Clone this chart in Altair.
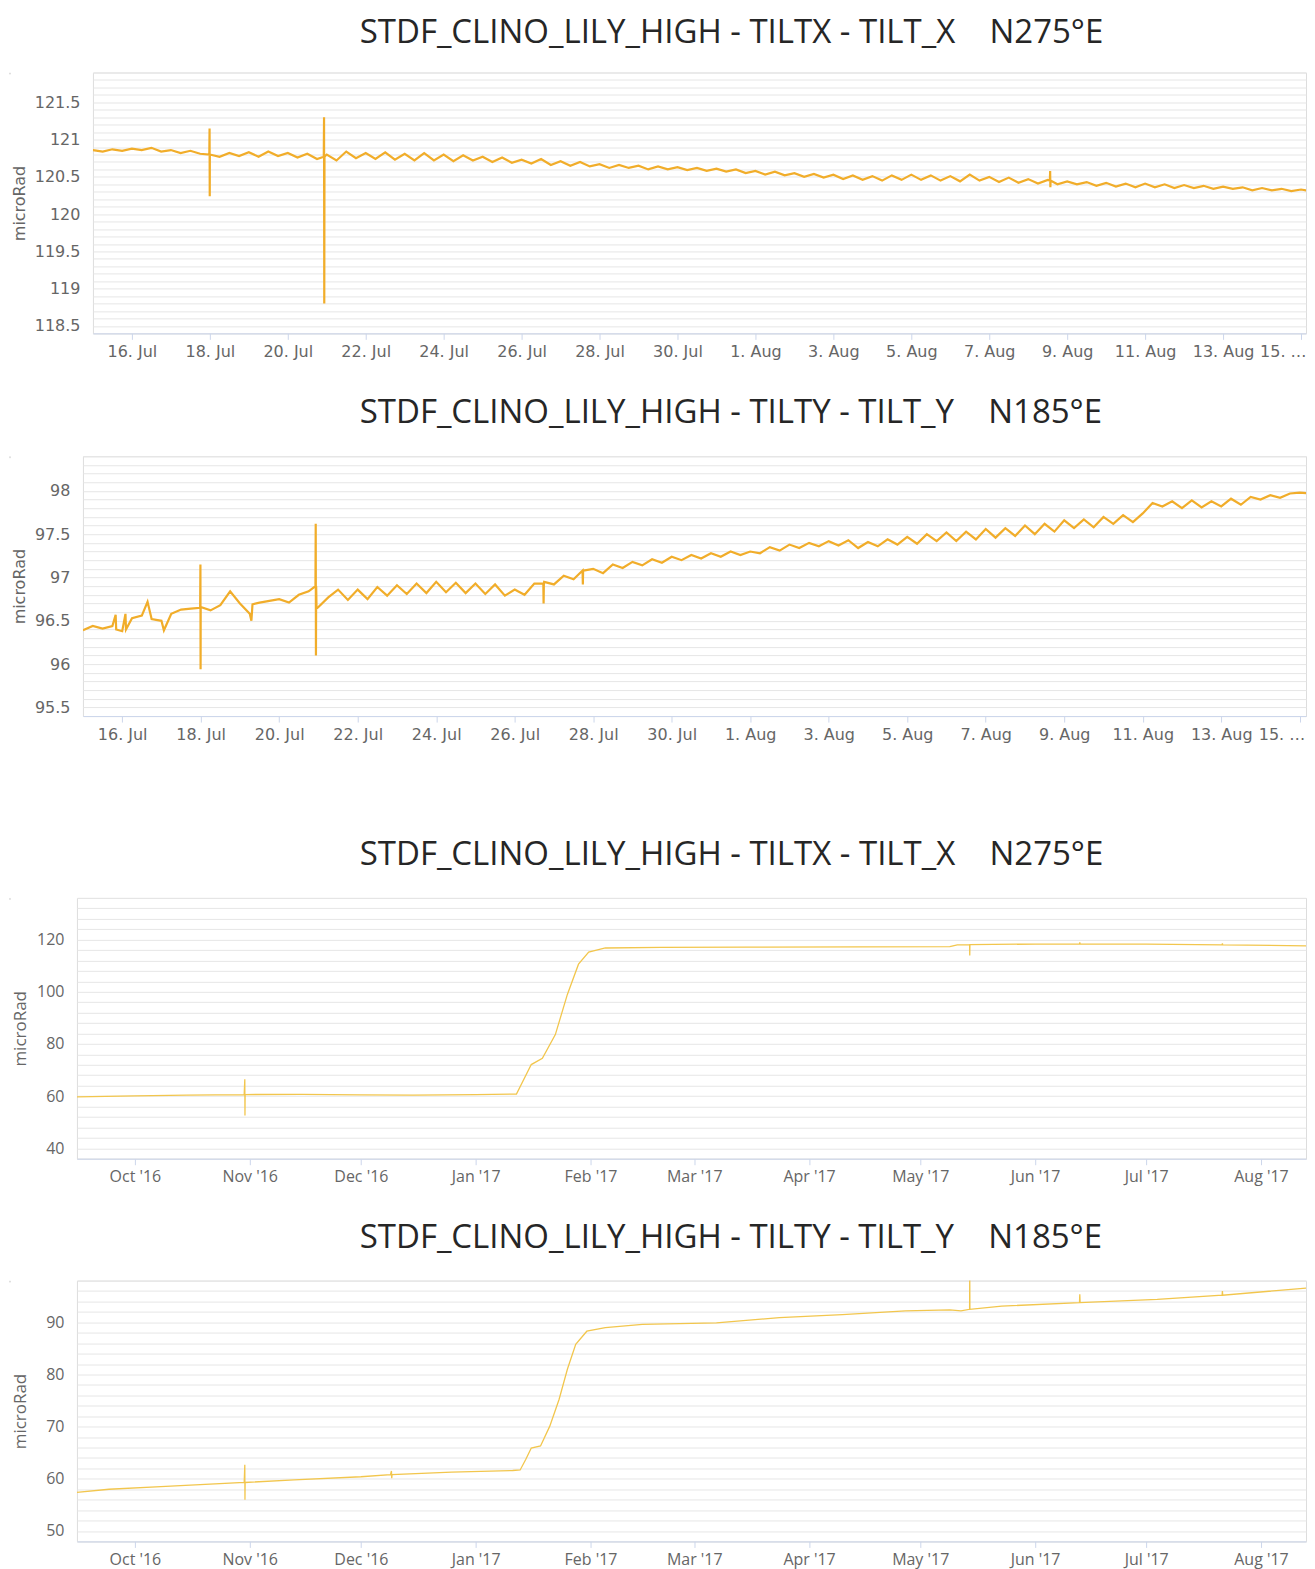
import altair as alt
import pandas as pd

# ---------------- short window: 15 Jul - 15 Aug 2017, 6-hourly readings ----------------
SHORT_START = "2017-07-15 00:00"

tiltx_short = [
    120.86, 120.84, 120.87, 120.85,  # 15 Jul
    120.88, 120.86, 120.89, 120.84,  # 16 Jul
    120.86, 120.82, 120.85, 120.81,  # 17 Jul
    120.80, 120.77, 120.82, 120.78,  # 18 Jul
    120.83, 120.77, 120.84, 120.78,  # 19 Jul
    120.82, 120.76, 120.81, 120.74,  # 20 Jul
    120.80, 120.72, 120.84, 120.75,  # 21 Jul
    120.82, 120.74, 120.83, 120.73,  # 22 Jul
    120.81, 120.72, 120.82, 120.72,  # 23 Jul
    120.80, 120.71, 120.79, 120.72,  # 24 Jul
    120.77, 120.70, 120.76, 120.69,  # 25 Jul
    120.73, 120.68, 120.74, 120.66,  # 26 Jul
    120.71, 120.65, 120.70, 120.64,  # 27 Jul
    120.67, 120.62, 120.66, 120.62,  # 28 Jul
    120.65, 120.60, 120.64, 120.60,  # 29 Jul
    120.63, 120.59, 120.62, 120.58,  # 30 Jul
    120.61, 120.57, 120.60, 120.55,  # 31 Jul
    120.58, 120.53, 120.57, 120.52,  # 1 Aug
    120.55, 120.50, 120.54, 120.49,  # 2 Aug
    120.53, 120.47, 120.52, 120.46,  # 3 Aug
    120.51, 120.45, 120.52, 120.46,  # 4 Aug
    120.53, 120.46, 120.52, 120.45,  # 5 Aug
    120.51, 120.44, 120.53, 120.45,  # 6 Aug
    120.50, 120.43, 120.49, 120.42,  # 7 Aug
    120.47, 120.41, 120.46, 120.40,  # 8 Aug
    120.44, 120.40, 120.43, 120.38,  # 9 Aug
    120.42, 120.37, 120.41, 120.36,  # 10 Aug
    120.41, 120.36, 120.40, 120.35,  # 11 Aug
    120.39, 120.35, 120.38, 120.34,  # 12 Aug
    120.37, 120.34, 120.36, 120.32,  # 13 Aug
    120.35, 120.32, 120.34, 120.31,  # 14 Aug
    120.33, 120.31,                  # 15 Aug
]
tiltx_short_event_times = [
    "2017-07-17 23:40", "2017-07-17 23:50", "2017-07-17 23:56",
    "2017-07-20 22:10", "2017-07-20 22:20", "2017-07-20 22:28", "2017-07-20 22:36",
    "2017-08-08 13:20", "2017-08-08 13:30", "2017-08-08 13:38", "2017-08-08 13:46",
]
tiltx_short_event_values = [
    120.80, 121.15, 120.24,
    120.77, 121.30, 118.80, 120.77,
    120.45, 120.58, 120.36, 120.45,
]

tilty_short = [
    96.39, 96.44, 96.41, 96.44,  # 15 Jul
    96.38, 96.53, 96.56, 96.52,  # 16 Jul
    96.50, 96.58, 96.63, 96.64,  # 17 Jul
    96.66, 96.62, 96.68, 96.84,  # 18 Jul
    96.70, 96.58, 96.71, 96.73,  # 19 Jul
    96.75, 96.71, 96.80, 96.84,  # 20 Jul
    96.66, 96.77, 96.86, 96.74,  # 21 Jul
    96.86, 96.75, 96.89, 96.79,  # 22 Jul
    96.91, 96.81, 96.93, 96.82,  # 23 Jul
    96.95, 96.83, 96.94, 96.82,  # 24 Jul
    96.93, 96.81, 96.92, 96.79,  # 25 Jul
    96.86, 96.80, 96.93, 96.95,  # 26 Jul
    96.92, 97.02, 96.98, 97.08,  # 27 Jul
    97.10, 97.05, 97.15, 97.11,  # 28 Jul
    97.18, 97.14, 97.21, 97.17,  # 29 Jul
    97.24, 97.20, 97.26, 97.22,  # 30 Jul
    97.28, 97.24, 97.30, 97.26,  # 31 Jul
    97.30, 97.28, 97.35, 97.31,  # 1 Aug
    97.38, 97.34, 97.40, 97.36,  # 2 Aug
    97.42, 97.37, 97.43, 97.34,  # 3 Aug
    97.41, 97.36, 97.44, 97.38,  # 4 Aug
    97.47, 97.39, 97.50, 97.42,  # 5 Aug
    97.52, 97.42, 97.53, 97.44,  # 6 Aug
    97.56, 97.46, 97.57, 97.48,  # 7 Aug
    97.60, 97.50, 97.62, 97.53,  # 8 Aug
    97.66, 97.57, 97.67, 97.58,  # 9 Aug
    97.70, 97.62, 97.72, 97.64,  # 10 Aug
    97.74, 97.86, 97.82, 97.88,  # 11 Aug
    97.80, 97.89, 97.81, 97.88,  # 12 Aug
    97.82, 97.91, 97.84, 97.93,  # 13 Aug
    97.90, 97.95, 97.92, 97.97,  # 14 Aug
    97.98, 97.97,                # 15 Aug
]
tilty_short_event_times = [
    "2017-07-15 20:00", "2017-07-15 20:20",
    "2017-07-16 02:00", "2017-07-16 02:20", "2017-07-16 15:30",
    "2017-07-17 01:30",
    "2017-07-17 23:40", "2017-07-17 23:50", "2017-07-17 23:56",
    "2017-07-19 07:00", "2017-07-19 07:40",
    "2017-07-20 22:10", "2017-07-20 22:20", "2017-07-20 22:28", "2017-07-20 22:36", "2017-07-20 22:50",
    "2017-07-26 17:30", "2017-07-26 17:40", "2017-07-26 17:50",
    "2017-07-27 17:30", "2017-07-27 17:40", "2017-07-27 17:50",
]
tilty_short_event_values = [
    96.57, 96.40,
    96.58, 96.40, 96.72,
    96.39,
    96.65, 97.15, 95.94,
    96.50, 96.69,
    96.90, 97.62, 96.10, 96.90, 96.64,
    96.93, 96.70, 96.93,
    97.08, 96.92, 97.08,
]

# ---------------- long window: Sep 2016 - Aug 2017 ----------------
tiltx_long_times = [
    "2016-09-15 08:00", "2016-10-01 00:00", "2016-10-15 00:00", "2016-10-30 12:00",
    "2016-10-30 16:00", "2016-10-30 17:00", "2016-10-30 18:00", "2016-11-15 00:00",
    "2016-12-01 00:00", "2016-12-15 00:00", "2017-01-01 00:00", "2017-01-12 00:00",
    "2017-01-16 00:00", "2017-01-19 00:00", "2017-01-22 12:00", "2017-01-25 18:00",
    "2017-01-28 18:00", "2017-01-31 12:00", "2017-02-05 00:00", "2017-02-20 00:00",
    "2017-03-15 00:00", "2017-04-15 00:00", "2017-05-09 00:00", "2017-05-11 00:00",
    "2017-05-14 08:00", "2017-05-14 09:00", "2017-05-14 10:00", "2017-06-01 00:00",
    "2017-06-13 00:00", "2017-06-13 02:00", "2017-06-13 04:00", "2017-07-01 00:00",
    "2017-07-21 12:00", "2017-07-21 14:00", "2017-07-21 16:00", "2017-08-15 08:00",
]
tiltx_long_values = [
    59.7, 60.1, 60.4, 60.6,
    66.5, 52.6, 60.6, 60.7,
    60.5, 60.4, 60.6, 60.8,
    72.1, 74.5, 83.6, 99.0,
    110.6, 115.2, 116.8, 117.0,
    117.1, 117.2, 117.3, 118.0,
    118.1, 113.9, 118.1, 118.3,
    118.3, 119.0, 118.3, 118.3,
    118.0, 118.6, 118.0, 117.6,
]

tilty_long_times = [
    "2016-09-15 08:00", "2016-09-24 00:00", "2016-10-08 00:00", "2016-10-30 12:00",
    "2016-10-30 16:00", "2016-10-30 17:00", "2016-10-30 18:00", "2016-11-13 00:00",
    "2016-12-01 00:00", "2016-12-09 00:00", "2016-12-09 06:00", "2016-12-09 08:00",
    "2016-12-09 10:00", "2016-12-25 12:00", "2017-01-11 00:00", "2017-01-13 00:00",
    "2017-01-14 12:00", "2017-01-16 00:00", "2017-01-18 12:00", "2017-01-21 00:00",
    "2017-01-23 12:00", "2017-01-25 18:00", "2017-01-28 00:00", "2017-01-31 00:00",
    "2017-02-05 00:00", "2017-02-15 00:00", "2017-03-07 00:00", "2017-03-24 00:00",
    "2017-04-10 00:00", "2017-04-27 00:00", "2017-05-09 00:00", "2017-05-12 00:00",
    "2017-05-14 08:00", "2017-05-14 09:00", "2017-05-14 10:00", "2017-05-23 00:00",
    "2017-06-13 00:00", "2017-06-13 02:00", "2017-06-13 04:00", "2017-07-04 00:00",
    "2017-07-21 12:00", "2017-07-21 14:00", "2017-07-21 16:00", "2017-08-15 08:00",
]
tilty_long_values = [
    57.4, 58.0, 58.5, 59.3,
    62.7, 56.0, 59.3, 59.8,
    60.4, 60.8, 61.5, 60.1,
    60.8, 61.3, 61.6, 61.7,
    63.7, 65.9, 66.3, 70.1,
    75.2, 81.0, 85.8, 88.3,
    89.0, 89.6, 89.9, 90.9,
    91.5, 92.2, 92.4, 92.2,
    92.5, 98.6, 92.5, 93.1,
    93.8, 95.4, 93.8, 94.4,
    95.2, 96.0, 95.2, 96.7,
]

# ---------------- titles and tick labels ----------------
GAP = "\u00a0" * 4
TITLE_X = "STDF_CLINO_LILY_HIGH - TILTX - TILT_X" + GAP + "N275°E"
TITLE_Y = "STDF_CLINO_LILY_HIGH - TILTY - TILT_Y" + GAP + "N185°E"
Y_TITLE = "microRad"

short_tick_days = [(7, d) for d in (16, 18, 20, 22, 24, 26, 28, 30)] + \
                  [(8, d) for d in (1, 3, 5, 7, 9, 11, 13, 15)]
long_tick_months = [(2016, 10), (2016, 11), (2016, 12), (2017, 1), (2017, 2), (2017, 3),
                    (2017, 4), (2017, 5), (2017, 6), (2017, 7), (2017, 8)]

grid_tx_short = [round(118.4 + 0.1 * i, 1) for i in range(36)]
grid_ty_short = [round(95.4 + 0.1 * i, 1) for i in range(31)]
grid_tx_long = list(range(36, 137, 4))
grid_ty_long = list(range(48, 99, 2))

# ---------------- styling ----------------
LABEL_COLOR = "#666666"
AXIS_LINE = "#ccd6eb"
GRID = "#e6e6e6"
SHORT_COLOR = "#f1ad2a"
LONG_COLOR = "#f2c64d"


def short_series(values, ev_t, ev_v):
    t = list(pd.date_range(SHORT_START, periods=len(values), freq="6h")) + list(pd.to_datetime(ev_t))
    df = pd.DataFrame({"t": t, "v": list(values) + list(ev_v)})
    return df.sort_values("t").reset_index(drop=True)


def long_series(times, values):
    return pd.DataFrame({"t": pd.to_datetime(times), "v": values})


def panel(df, title, origin, title_x, width, height, x_dom, x_vals, y_dom, y_vals, y_expr,
          font, title_font_size, color, stroke_w, short, title_dy=32):
    x_kw = dict(values=x_vals, grid=False, domain=True, domainColor=AXIS_LINE,
                ticks=True, tickColor=AXIS_LINE, tickSize=6, labelPadding=4,
                labelFont=font, labelFontSize=16, labelColor=LABEL_COLOR,
                labelOverlap=False, title=None)
    if short:
        x_kw["labelExpr"] = ("(month(datum.value) == 7 && date(datum.value) == 15) ? '15. \u2026' "
                             ": timeFormat(datum.value, '%-d. %b')")
        x_kw["labelFlush"] = 10
        x_kw["labelFlushOffset"] = 5
    else:
        x_kw["format"] = "%b '%y"
        x_kw["labelFlush"] = False
    y_axis = alt.Axis(values=y_vals, labelExpr=y_expr, grid=True, gridColor=GRID,
                      domain=False, ticks=False, labelPadding=13, labelFont=font,
                      labelFontSize=16, labelColor=LABEL_COLOR, labelOverlap=False,
                      title=Y_TITLE, titleX=title_x, titleY=height / 2,
                      titleAngle=270, titleAlign="center", titleBaseline="middle",
                      titleFont=font, titleFontSize=title_font_size,
                      titleFontWeight="normal", titleColor=LABEL_COLOR)
    return alt.Chart(df).mark_line(color=color, strokeWidth=stroke_w, clip=True).encode(
        x=alt.X("t:T", scale=alt.Scale(domain=x_dom, nice=False), axis=alt.Axis(**x_kw)),
        y=alt.Y("v:Q", scale=alt.Scale(domain=y_dom, nice=False, zero=False), axis=y_axis),
    ).properties(
        width=width, height=height,
        title=alt.TitleParams(text=title, anchor="start", frame="group", dx=360 - origin,
                              dy=title_dy, offset=24, baseline="alphabetic", font="Open Sans",
                              fontSize=33, fontWeight="normal", color="#262626"),
    )


def row(p):
    spacer = alt.Chart(pd.DataFrame({"s": [0]})).mark_text(text="", opacity=0).encode(
        x=alt.value(0), y=alt.value(0)
    ).properties(width=1, height=1)
    return alt.hconcat(spacer, p, spacing=0)


short_ticks = [alt.DateTime(year=2017, month=m, date=d, hours=0) for m, d in short_tick_days]
long_ticks = [alt.DateTime(year=y, month=m, date=1, hours=0) for y, m in long_tick_months]

short_expr = "abs(datum.value * 2 - round(datum.value * 2)) < 0.001 ? format(datum.value, '~f') : ''"

p1 = panel(short_series(tiltx_short, tiltx_short_event_times, tiltx_short_event_values),
           TITLE_X, 93, -73, 1214, 261,
           [alt.DateTime(year=2017, month=7, date=15, hours=0),
            alt.DateTime(year=2017, month=8, date=15, hours=3, minutes=4)],
           short_ticks, [118.4, 121.9], grid_tx_short, short_expr,
           "DejaVu Sans", 16, SHORT_COLOR, 2.2, True, title_dy=35)
p2 = panel(short_series(tilty_short, tilty_short_event_times, tilty_short_event_values),
           TITLE_Y, 83, -63, 1224, 260,
           [alt.DateTime(year=2017, month=7, date=15, hours=0),
            alt.DateTime(year=2017, month=8, date=15, hours=3, minutes=50)],
           short_ticks, [95.4, 98.4], grid_ty_short, short_expr,
           "DejaVu Sans", 16, SHORT_COLOR, 2.2, True)
long_dom = [alt.DateTime(year=2016, month=9, date=15, hours=8, minutes=24),
            alt.DateTime(year=2017, month=8, date=13, hours=3, minutes=36)]
p3 = panel(long_series(tiltx_long_times, tiltx_long_values),
           TITLE_X, 77, -56, 1230, 261, long_dom, long_ticks, [36, 136], grid_tx_long,
           "datum.value % 20 == 0 ? format(datum.value, 'd') : ''",
           "Open Sans", 17, LONG_COLOR, 1.3, False)
p4 = panel(long_series(tilty_long_times, tilty_long_values),
           TITLE_Y, 77, -56, 1230, 261, long_dom, long_ticks, [48, 98], grid_ty_long,
           "datum.value % 10 == 0 ? format(datum.value, 'd') : ''",
           "Open Sans", 17, LONG_COLOR, 1.3, False)

g1 = alt.vconcat(row(p1), row(p2), spacing=36)
g2 = alt.vconcat(row(p3), row(p4), spacing=35)

chart = alt.vconcat(g1, g2, spacing=95).properties(
    padding={"left": 0, "top": 7, "right": 0, "bottom": 0}
).configure_view(stroke=None).configure(background="white")

chart.save("out.html", embed_options={"renderer": "svg", "actions": False})
